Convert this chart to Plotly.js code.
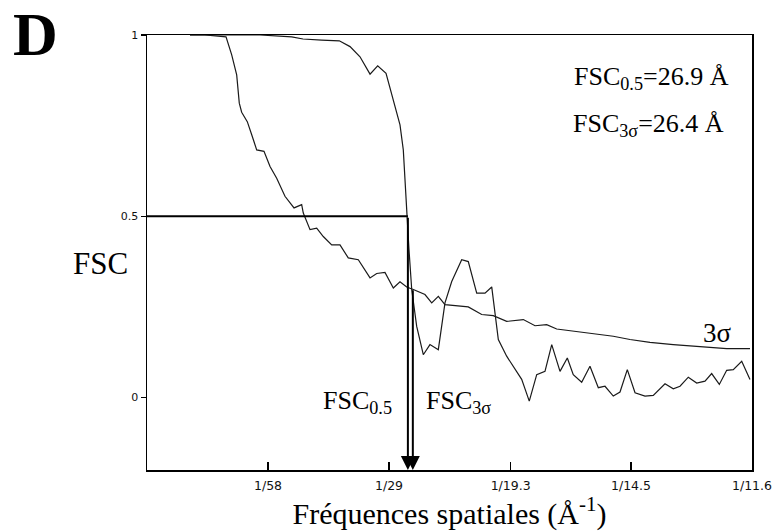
<!DOCTYPE html>
<html>
<head>
<meta charset="utf-8">
<script src="https://cdn.plot.ly/plotly-3.0.1.min.js"></script>
<style>html,body{margin:0;padding:0;background:#fff;}#chart{width:779px;height:532px;}</style>
</head>
<body>
<div id="chart"></div>
<script>
// Spatial frequency (1/Å) and FSC values
var fscFreq = [0.00613,0.00826,0.01183,0.0161,0.02062,0.02223,0.02489,0.0274,0.02893,0.03035,0.03178,0.03287,0.03406,0.03487,0.03605,0.03652,0.0369,0.037,0.03733,0.03772,0.03843,0.03937,0.04032,0.04151,0.04246,0.04342,0.04484,0.04578,0.04698,0.04816,0.04912,0.05006,0.05125,0.05339,0.05447,0.05553,0.05671,0.05767,0.05885,0.05989,0.06074,0.06194,0.06312,0.06431,0.06526,0.06644,0.0674,0.06844,0.06954,0.07096,0.07214,0.07381,0.07499,0.07595,0.07713,0.07833,0.07951,0.08046,0.08155,0.0826,0.08354,0.08474,0.08592];
var fscVal  = [1.0,1.0,1.0,1.0,0.995,0.989,0.986,0.984,0.968,0.940,0.892,0.915,0.894,0.835,0.752,0.683,0.555,0.499,0.408,0.298,0.196,0.118,0.146,0.132,0.261,0.320,0.380,0.375,0.288,0.288,0.305,0.160,0.114,0.050,-0.010,0.063,0.072,0.146,0.072,0.109,0.063,0.042,0.086,0.027,0.031,0.004,0.015,0.077,0.013,0.004,0.006,0.038,0.024,0.031,0.056,0.040,0.045,0.066,0.036,0.075,0.077,0.100,0.050];

// 3-sigma threshold curve
var sigFreq = [0.00613,0.00826,0.01126,0.01207,0.01278,0.01315,0.01349,0.01429,0.01492,0.01563,0.01667,0.01753,0.01848,0.01966,0.02095,0.02204,0.02227,0.02323,0.02418,0.02512,0.02632,0.0275,0.02868,0.03011,0.03178,0.03273,0.03391,0.0351,0.03605,0.03700,0.03795,0.03961,0.04057,0.04151,0.04246,0.04412,0.04578,0.04769,0.04934,0.05125,0.05362,0.05529,0.05695,0.05838,0.0617,0.06408,0.06644,0.06882,0.07167,0.07499,0.0788,0.0826,0.08592];
var sigVal  = [1.0,1.0,0.995,0.945,0.890,0.812,0.787,0.761,0.725,0.683,0.679,0.637,0.605,0.555,0.523,0.532,0.509,0.463,0.467,0.444,0.421,0.421,0.385,0.380,0.330,0.342,0.345,0.302,0.319,0.305,0.298,0.284,0.261,0.279,0.256,0.252,0.250,0.229,0.226,0.210,0.215,0.198,0.201,0.189,0.180,0.174,0.169,0.160,0.152,0.146,0.140,0.135,0.135];

// Axis ticks
var xTickDen = [58, 29, 19.3, 14.5, 11.6];
var xTickText = ['1/58', '1/29', '1/19.3', '1/14.5', '1/11.6'];
var yTickVals = [0, 0.5, 1];
var yTickText = ['0', '0.5', '1'];

// Resolution markers: FSC0.5 = 26.9 Å, FSC3σ = 26.4 Å
var resAngstrom = [26.9, 26.4];
var resStartVal = [0.5, 0.30];

var xTickVals = xTickDen.map(function(d){ return 1/d; });
var xMax = 1/11.6;
var yMin = -0.2, yMax = 1.0;

var serif = 'Liberation Serif, Times New Roman, serif';

var traces = [
  {x: fscFreq, y: fscVal, mode: 'lines', line: {color: '#1a1a1a', width: 1.2}, hoverinfo: 'skip', showlegend: false},
  {x: sigFreq, y: sigVal, mode: 'lines', line: {color: '#1a1a1a', width: 1.2}, hoverinfo: 'skip', showlegend: false}
];

function px2paperX(px){ return (px - 147) / 605; }
function px2paperY(py){ return (470 - py) / 435; }

var annotations = [
  {text: '<b>D</b>', xref: 'paper', yref: 'paper', x: px2paperX(11), y: px2paperY(34), xanchor: 'left', yanchor: 'middle', showarrow: false, font: {family: serif, size: 62, color: '#000'}},
  {text: 'FSC', xref: 'paper', yref: 'paper', x: px2paperX(71), y: px2paperY(263), xanchor: 'left', yanchor: 'middle', showarrow: false, font: {family: serif, size: 31, color: '#000'}},
  {text: 'FSC<sub>0.5</sub>=26.9 Å', xref: 'paper', yref: 'paper', x: px2paperX(572), y: px2paperY(78), xanchor: 'left', yanchor: 'middle', showarrow: false, font: {family: serif, size: 26, color: '#000'}},
  {text: 'FSC<sub>3σ</sub>=26.4 Å', xref: 'paper', yref: 'paper', x: px2paperX(571), y: px2paperY(125), xanchor: 'left', yanchor: 'middle', showarrow: false, font: {family: serif, size: 26, color: '#000'}},
  {text: 'FSC<sub>0.5</sub>', xref: 'paper', yref: 'paper', x: px2paperX(321), y: px2paperY(402), xanchor: 'left', yanchor: 'middle', showarrow: false, font: {family: serif, size: 26, color: '#000'}},
  {text: 'FSC<sub>3σ</sub>', xref: 'paper', yref: 'paper', x: px2paperX(424), y: px2paperY(402), xanchor: 'left', yanchor: 'middle', showarrow: false, font: {family: serif, size: 26, color: '#000'}},
  {text: '3σ', xref: 'paper', yref: 'paper', x: px2paperX(701), y: px2paperY(333), xanchor: 'left', yanchor: 'middle', showarrow: false, font: {family: serif, size: 27, color: '#000'}}
];

resAngstrom.forEach(function(r, i){
  annotations.push({
    x: 1/r, y: yMin, xref: 'x', yref: 'y',
    ax: 1/r, ay: resStartVal[i], axref: 'x', ayref: 'y',
    showarrow: true, arrowhead: 2, arrowsize: 1.4, arrowwidth: 2, arrowcolor: '#000',
    standoff: 0, startstandoff: 0, text: ''
  });
});

var shapes = [
  {type: 'line', xref: 'x', yref: 'y', x0: 0, x1: 1/resAngstrom[0], y0: resStartVal[0], y1: resStartVal[0], line: {color: '#000', width: 2}}
];

var layout = {
  width: 779, height: 532,
  margin: {l: 147, r: 27, t: 35, b: 62, pad: 0},
  paper_bgcolor: '#fff', plot_bgcolor: '#fff',
  showlegend: false,
  xaxis: {
    range: [0, xMax], tickvals: xTickVals, ticktext: xTickText,
    ticks: 'inside', ticklen: 8, tickwidth: 1.3, tickcolor: '#000',
    showline: true, linecolor: '#000', linewidth: 1.5, mirror: true,
    showgrid: false, zeroline: false, ticklabelstandoff: 3,
    tickfont: {family: 'DejaVu Sans, sans-serif', size: 12.5, color: '#111'},
    title: {text: 'Fréquences spatiales (Å<sup>-1</sup>)', font: {family: serif, size: 30, color: '#000'}, standoff: 8}
  },
  yaxis: {
    range: [yMin, yMax], tickvals: yTickVals, ticktext: yTickText,
    ticks: 'outside', ticklen: 5, tickwidth: 1.3, tickcolor: '#000',
    showline: true, linecolor: '#000', linewidth: 1.5, mirror: true,
    showgrid: false, zeroline: false,
    tickfont: {family: 'DejaVu Sans, sans-serif', size: 11, color: '#111'}
  },
  annotations: annotations,
  shapes: shapes
};

Plotly.newPlot('chart', traces, layout, {displayModeBar: false, staticPlot: true});
</script>
</body>
</html>
